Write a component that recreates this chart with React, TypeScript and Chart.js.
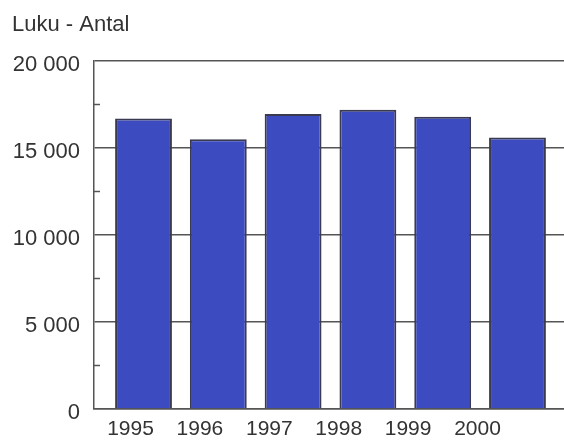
import React, { useEffect, useRef } from 'react';
import { Chart, registerables } from 'chart.js';

Chart.register(...registerables);

const titleText = 'Luku - Antal';
const years = [1995, 1996, 1997, 1998, 1999, 2000];
const values = [16700, 15500, 16950, 17200, 16800, 15600];
const yMajorValues = [0, 5000, 10000, 15000, 20000];
const yTickLabels = ['0', '5 000', '10 000', '15 000', '20 000'];

const FONT = "'Liberation Sans', Arial, Helvetica, sans-serif";
const LINE = '#555555';
const TEXT = '#333333';

const minorTicksPlugin = {
  id: 'minorTicks',
  afterDatasetsDraw(chart: any) {
    const y = chart.scales.y;
    const ctx = chart.ctx;
    const left = chart.chartArea.left;
    ctx.save();
    ctx.strokeStyle = LINE;
    ctx.lineWidth = 1.5;
    y.ticks.forEach((t: any) => {
      if (yMajorValues.indexOf(t.value) === -1) {
        const py = y.getPixelForValue(t.value);
        ctx.beginPath();
        ctx.moveTo(left, py);
        ctx.lineTo(left + 6, py);
        ctx.stroke();
      }
    });
    ctx.restore();
  },
};

export default function App() {
  const ref = useRef<HTMLCanvasElement>(null);

  useEffect(() => {
    if (!ref.current) return;
    const chart = new Chart(ref.current, {
      type: 'bar',
      data: {
        datasets: [
          {
            data: years.map((yr, i) => ({ x: yr, y: values[i] })),
            backgroundColor: '#3c4cc0',
            borderColor: '#3a3a50',
            borderWidth: 2,
            barPercentage: 0.76,
            categoryPercentage: 1,
            xAxisID: 'x',
            yAxisID: 'y',
          },
        ],
      },
      options: {
        animation: false,
        responsive: false,
        devicePixelRatio: 1,
        layout: { padding: { left: 12, top: 0, right: 0, bottom: 0 } },
        plugins: {
          legend: { display: false },
          tooltip: { enabled: false },
          title: {
            display: true,
            text: titleText,
            align: 'start',
            color: TEXT,
            font: { family: FONT, size: 22, weight: 'normal' },
            padding: { top: 11.9, bottom: 22.7 },
          },
        },
        scales: {
          x: {
            type: 'linear',
            display: false,
            offset: false,
            min: 1994.338,
            max: 2000.622,
            grid: { offset: false },
          },
          x2: {
            type: 'linear',
            position: 'bottom',
            offset: false,
            min: 1994.474,
            max: 2001.246,
            afterBuildTicks: (axis: any) => {
              axis.ticks = years.map((v) => ({ value: v }));
            },
            afterFit: (s: any) => {
              s.height = 34;
            },
            grid: { display: false, drawTicks: false, offset: false },
            border: { display: true, color: LINE, width: 1.5 },
            ticks: {
              autoSkip: false,
              maxRotation: 0,
              padding: 8,
              color: TEXT,
              font: { family: FONT, size: 21 },
              callback: (v: any) => String(v),
            },
          },
          y: {
            type: 'linear',
            min: 0,
            max: 20000,
            afterFit: (s: any) => {
              s.width = 82;
            },
            grid: {
              drawTicks: false,
              lineWidth: 1.5,
              color: (c: any) =>
                c.tick && yMajorValues.indexOf(c.tick.value) !== -1 ? LINE : 'rgba(0,0,0,0)',
            },
            border: { display: true, color: LINE, width: 1.5 },
            ticks: {
              stepSize: 2500,
              autoSkip: false,
              padding: 14,
              labelOffset: 4,
              color: TEXT,
              font: { family: FONT, size: 22 },
              callback: (v: any) => {
                const idx = yMajorValues.indexOf(Number(v));
                return idx === -1 ? '' : yTickLabels[idx];
              },
            },
          },
        },
      },
      plugins: [minorTicksPlugin],
    } as any);
    return () => chart.destroy();
  }, []);

  return (
    <div style={{ position: 'fixed', left: 0, top: 0, width: 564, height: 443, background: '#fff' }}>
      <canvas ref={ref} width={564} height={443} style={{ display: 'block' }} />
    </div>
  );
}
